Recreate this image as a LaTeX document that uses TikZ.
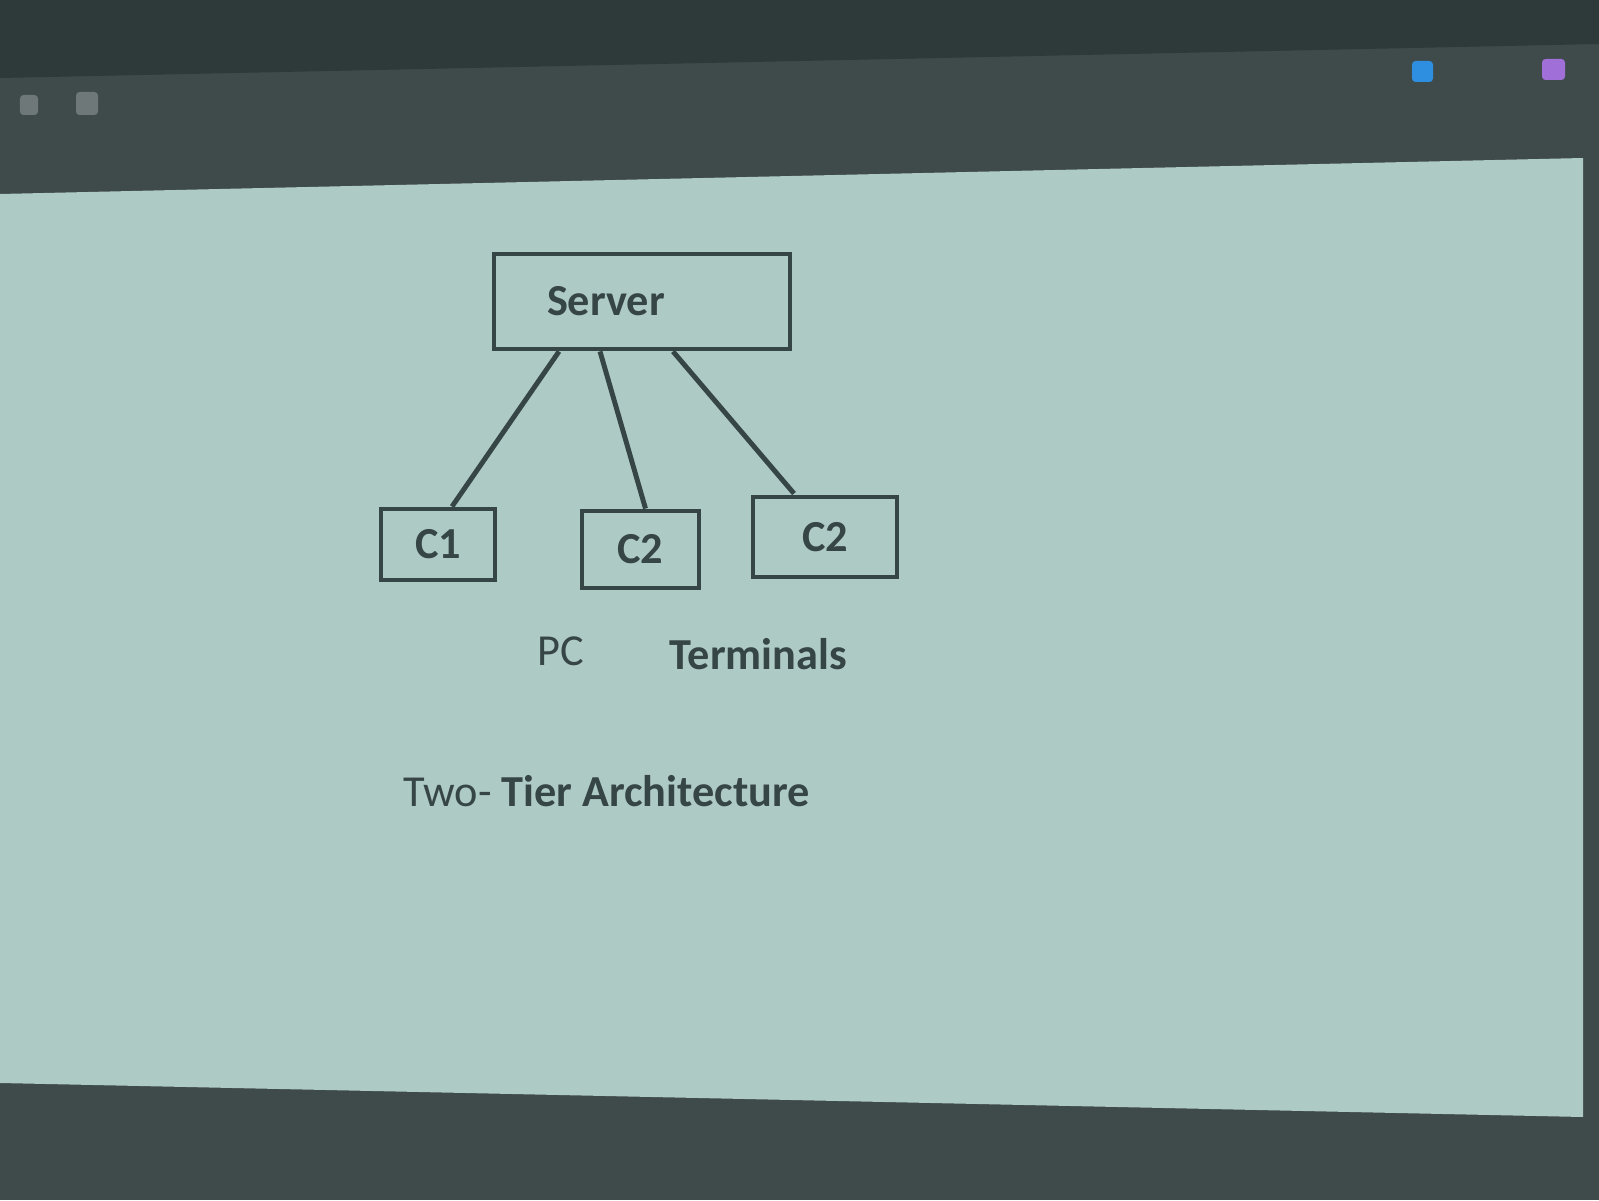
\documentclass[tikz,border=0pt]{standalone}
\usepackage{fontspec}
\setmainfont{Carlito}
\usetikzlibrary{positioning,calc}
\definecolor{screen}{HTML}{AECAC5}
\definecolor{frame}{HTML}{3F4A4B}
\definecolor{frametop}{HTML}{2E3939}
\definecolor{ink}{HTML}{364545}
\definecolor{iconblue}{HTML}{2E8FE0}
\definecolor{iconpurple}{HTML}{A070D8}
\definecolor{icongray}{HTML}{6E7878}

\begin{document}
\begin{tikzpicture}[
      box/.style={draw=ink, line width=1.4pt, inner sep=0pt, text=ink,
                  font=\fontsize{12.6}{15}\selectfont\bfseries},
      link/.style={draw=ink, line width=1.4pt},
      caption/.style={text=ink, inner sep=0pt, anchor=west,
                      font=\fontsize{12.6}{15}\selectfont}
    ]
      % Screen and frame
      \fill[frame] (0,0) rectangle (15.99,12);
      \fill[frametop] (0,12) -- (0,11.22) -- (15.99,11.56) -- (15.99,12) -- cycle;
      \fill[screen] (0,10.06) -- (15.83,10.42) -- (15.83,0.83) -- (0,1.17) -- cycle;
      \fill[iconblue, rounded corners=1pt] (14.12,11.18) rectangle (14.33,11.39);
      \fill[iconpurple, rounded corners=1pt] (15.42,11.20) rectangle (15.65,11.41);
      \fill[icongray, rounded corners=1pt] (0.20,10.85) rectangle (0.38,11.05);
      \fill[icongray, rounded corners=1pt] (0.76,10.85) rectangle (0.98,11.08);

      % Boxes
      \node[box, minimum width=2.96cm, minimum height=0.95cm, inner xsep=0.53cm,
            text width=1.90cm, align=left] (server) at (6.42, 8.985) {Server};
      \node[box, minimum width=1.14cm, minimum height=0.71cm] (pc) at (4.38, 6.555) {C1};
      \node[box, minimum width=1.17cm, minimum height=0.77cm] (term1) at (6.405, 6.505) {C2};
      \node[box, minimum width=1.44cm, minimum height=0.80cm] (term2) at (8.25, 6.63) {C2};

      % Links
      \draw[link] ([xshift=-0.83cm]server.south) -- ([xshift=0.14cm]pc.north);
      \draw[link] ([xshift=-0.42cm]server.south) -- ([xshift=0.05cm]term1.north);
      \draw[link] ([xshift=0.31cm]server.south) -- ([xshift=-0.31cm, yshift=0.01cm]term2.north);

      % Labels
      \node[caption] (pclabel) at (5.37, 5.49) {PC};
      \node[caption, font=\fontsize{12.6}{15}\selectfont\bfseries] (termlabel) at (6.69, 5.46) {Terminals};
      \node[caption] (title) at (4.03, 4.09) {Two- \textbf{Tier Architecture}};
    \end{tikzpicture}
\end{document}
